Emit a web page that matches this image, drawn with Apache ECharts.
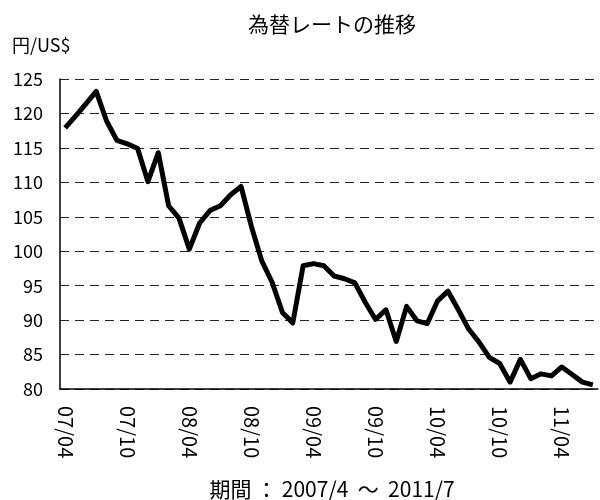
<!DOCTYPE html>
<html>
<head>
    <meta charset="utf-8">
    <title>為替レートの推移</title>
    <script type="text/javascript" src="https://cdn.jsdelivr.net/npm/echarts@6/dist/echarts.min.js"></script>
    <style>
        html, body {
            margin: 0;
            padding: 0;
            background: #fff;
        }

        #chart {
            width: 600px;
            height: 500px;
        }
    </style>
</head>
<body>
    <div id="chart"></div>
<script type="text/javascript">
    // 月次（2007/4 ～ 2011/7）
    var months = [
        '07/04', '07/05', '07/06', '07/07', '07/08', '07/09',
        '07/10', '07/11', '07/12', '08/01', '08/02', '08/03',
        '08/04', '08/05', '08/06', '08/07', '08/08', '08/09',
        '08/10', '08/11', '08/12', '09/01', '09/02', '09/03',
        '09/04', '09/05', '09/06', '09/07', '09/08', '09/09',
        '09/10', '09/11', '09/12', '10/01', '10/02', '10/03',
        '10/04', '10/05', '10/06', '10/07', '10/08', '10/09',
        '10/10', '10/11', '10/12', '11/01', '11/02', '11/03',
        '11/04', '11/05', '11/06', '11/07'
    ];
    // 円/US$
    var rates = [
        117.9, 119.6, 121.4, 123.2, 118.9, 116.1,
        115.6, 114.9, 110.1, 114.3, 106.6, 104.8,
        100.3, 104.1, 105.9, 106.6, 108.2, 109.4,
        103.6, 98.6, 95.5, 91.1, 89.6, 97.9,
        98.2, 97.9, 96.4, 96.0, 95.4, 92.6,
        90.1, 91.5, 86.9, 92.0, 89.9, 89.5,
        92.8, 94.2, 91.5, 88.7, 86.8, 84.6,
        83.7, 81.0, 84.3, 81.5, 82.2, 81.9,
        83.2, 82.1, 81.0, 80.6
    ];
    var yMin = 80;
    var yMax = 125;
    var yStep = 5;

    var font = '"Noto Sans CJK JP", "Noto Sans", sans-serif';

    var option = {
        animation: false,
        backgroundColor: '#fff',
        textStyle: { fontFamily: font },
        grid: {
            left: 60,
            right: 2,
            top: 79,
            bottom: 111
        },
        graphic: [{
            type: 'text',
            x: 332,
            y: 24,
            style: {
                text: '為替レートの推移',
                font: '21px ' + font,
                fill: '#000',
                align: 'center',
                verticalAlign: 'middle'
            }
        }, {
            type: 'text',
            x: 12,
            y: 45,
            style: {
                text: '円/US$',
                font: '18px ' + font,
                fill: '#000',
                align: 'left',
                verticalAlign: 'middle'
            }
        }, {
            type: 'text',
            x: 332,
            y: 489,
            style: {
                text: '期間 ： 2007/4  ～  2011/7',
                font: '21px ' + font,
                fill: '#000',
                align: 'center',
                verticalAlign: 'middle'
            }
        }],
        xAxis: {
            type: 'category',
            data: months,
            boundaryGap: true,
            axisLine: { lineStyle: { color: '#000', width: 1.5 } },
            axisTick: {
                interval: 5,
                length: 5,
                inside: true,
                lineStyle: { color: '#000', width: 1.5 }
            },
            axisLabel: {
                interval: 5,
                rotate: -90,
                margin: 17,
                color: '#000',
                fontSize: 20,
                fontFamily: font
            },
            splitLine: { show: false }
        },
        yAxis: {
            type: 'value',
            min: yMin,
            max: yMax,
            interval: yStep,
            axisLine: { show: true, lineStyle: { color: '#000', width: 1.5 } },
            axisTick: { show: false },
            axisLabel: {
                margin: 17,
                color: '#000',
                fontSize: 18,
                fontFamily: font
            },
            splitLine: {
                show: true,
                lineStyle: { color: '#222', width: 1, type: [9, 6] }
            }
        },
        series: [{
            name: '円/US$',
            type: 'line',
            data: rates,
            showSymbol: false,
            symbol: 'none',
            lineStyle: { color: '#000', width: 5, join: 'round' },
            itemStyle: { color: '#000' }
        }]
    };

    var myChart = echarts.init(document.getElementById('chart'));
    myChart.setOption(option);
</script>
</body>
</html>
